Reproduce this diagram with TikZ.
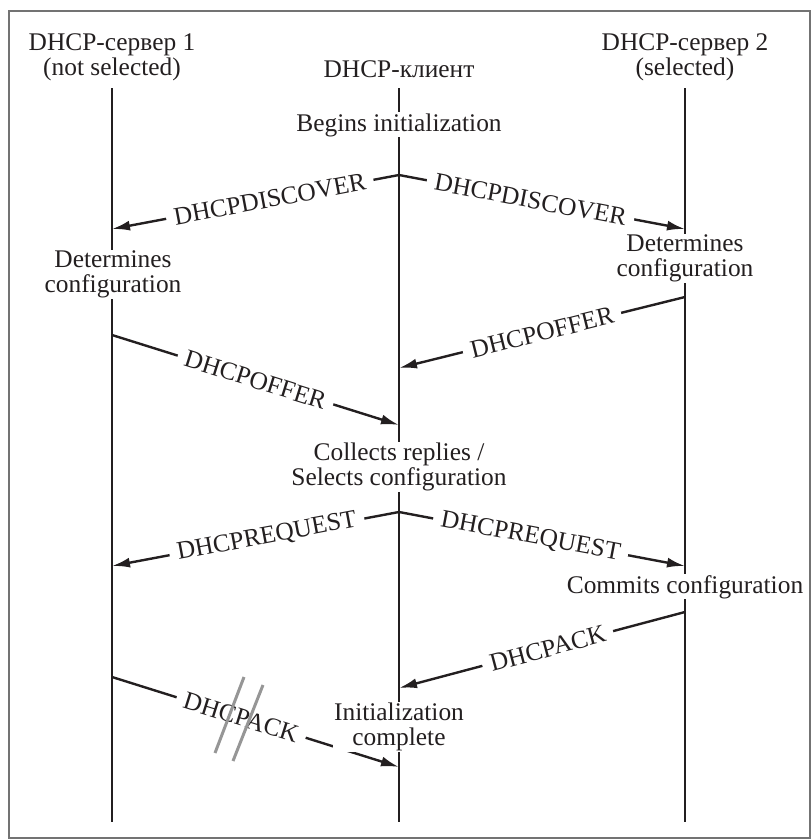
\documentclass[tikz,border=0pt]{standalone}
\usepackage{fontspec}
\setmainfont{Liberation Serif}
\usetikzlibrary{arrows.meta}
\definecolor{ink}{RGB}{35,31,32}
\definecolor{framegray}{RGB}{115,115,115}
\definecolor{slashgray}{RGB}{150,150,150}
\begin{document}
\begin{tikzpicture}[x=1pt,y=-1pt,
  every node/.style={font=\fontsize{25.4pt}{25pt}\selectfont, text=ink},
  lifeline/.style={draw=ink, line width=2.4pt},
  msg/.style={draw=ink, line width=2.4pt, -{Latex[length=18pt,width=10pt]}},
  lbl/.style={sloped, fill=white, inner xsep=8pt, inner ysep=0pt},
  event/.style={fill=white, align=center, inner sep=1pt},
  header/.style={align=center, inner sep=1pt},
  cross/.style={draw=slashgray, line width=3pt},
]
\useasboundingbox (0,0) rectangle (811,839);
\draw[framegray, line width=1.5pt] (9,11) rectangle (810,838);

% lifelines
\coordinate (s1top) at (112,88);  \coordinate (s1bot) at (112,822);
\coordinate (ctop)  at (399,88);  \coordinate (cbot)  at (399,822);
\coordinate (s2top) at (685,88);  \coordinate (s2bot) at (685,822);
\draw[lifeline] (s1top) -- (s1bot);
\draw[lifeline] (ctop) -- (cbot);
\draw[lifeline] (s2top) -- (s2bot);

% headers
\node[header] (h1) at (112,57.6) {DHCP-сервер 1\\(not selected)};
\node[header, anchor=base] (hc) at (399,77) {DHCP-клиент};
\node[header] (h2) at (685,57.6) {DHCP-сервер 2\\(selected)};

% message end points
\coordinate (c-disc)  at (399,175);
\coordinate (s1-disc) at (112,229);
\coordinate (s2-disc) at (685,229);
\coordinate (s2-off)  at (685,297);
\coordinate (c-offR)  at (399,368);
\coordinate (s1-off)  at (112,335);
\coordinate (c-offL)  at (399,425);
\coordinate (c-req)   at (399,512);
\coordinate (s1-req)  at (112,566);
\coordinate (s2-req)  at (685,566);
\coordinate (s2-ack)  at (685,612);
\coordinate (c-ackR)  at (399,688);
\coordinate (s1-ack)  at (112,677);
\coordinate (c-ackL)  at (399,767);

% messages
\draw[msg] (c-disc) -- node[lbl, pos=0.45] (m1) {DHCPDISCOVER} (s1-disc);
\draw[msg] (c-disc) -- node[lbl, pos=0.46] (m2) {DHCPDISCOVER} (s2-disc);
\draw[msg] (s2-off) -- node[lbl, pos=0.5] (m3) {DHCPOFFER} (c-offR);
\draw[msg] (s1-off) -- node[lbl, pos=0.5] (m4) {DHCPOFFER} (c-offL);
\draw[msg] (c-req) -- node[lbl, pos=0.46] (m5) {DHCPREQUEST} (s1-req);
\draw[msg] (c-req) -- node[lbl, pos=0.46] (m6) {DHCPREQUEST} (s2-req);
\draw[msg] (s2-ack) -- node[lbl, pos=0.48] (m7) {DHCPACK} (c-ackR);
\draw[msg] (s1-ack) -- node[lbl, pos=0.45] (m8) {DHCPACK} (c-ackL);

% events on lifelines
\node[event, anchor=base] (begin) at (399,131) {Begins initialization};
\node[event] (det1) at (113,274.6) {Determines\\configuration};
\node[event] (det2) at (685,258.6) {Determines\\configuration};
\node[event] (collect) at (399,466.6) {Collects replies /\\Selects configuration};
\node[event, anchor=base] (commit) at (685,593) {Commits configuration};
\node[event] (done) at (399,726.6) {Initialization\\complete};

% lost-message marks
\coordinate (x1a) at (244,677); \coordinate (x1b) at (215,753);
\coordinate (x2a) at (263,685); \coordinate (x2b) at (233,761);
\draw[cross] (x1a) -- (x1b);
\draw[cross] (x2a) -- (x2b);
\end{tikzpicture}
\end{document}
